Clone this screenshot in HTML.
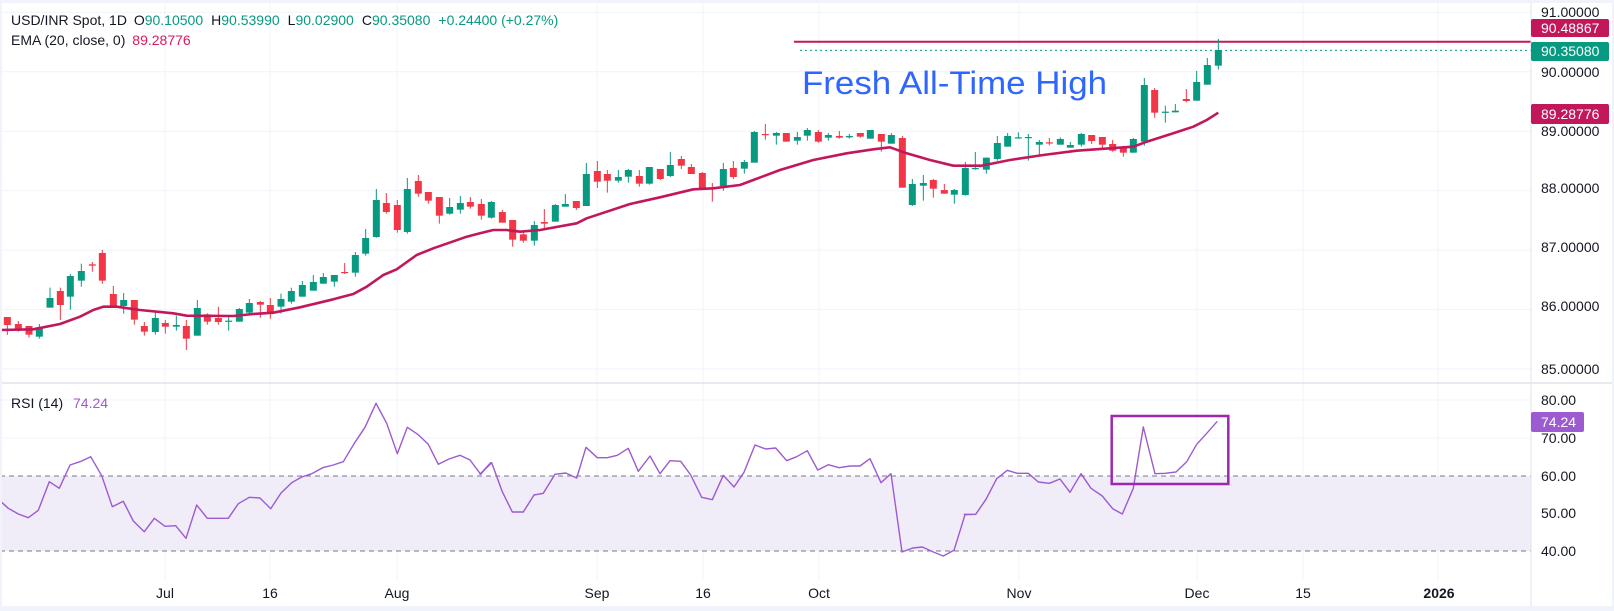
<!DOCTYPE html>
<html><head><meta charset="utf-8"><style>
html,body{margin:0;padding:0;background:#fff;}
body{width:1614px;height:611px;overflow:hidden;font-family:"Liberation Sans","DejaVu Sans",sans-serif;}
svg{display:block}
</style></head><body>
<svg id="c" width="1614" height="611" xmlns="http://www.w3.org/2000/svg" font-family="Liberation Sans, DejaVu Sans, sans-serif">
<rect x="0" y="0" width="1614" height="611" fill="#fff"/>
<g id="grid" stroke="#f0f3fa" stroke-width="1"></g>
<rect x="0" y="476" width="1531" height="75" fill="#f0ecf8"/>
<line x1="0" y1="476" x2="1531" y2="476" stroke="#787b86" stroke-dasharray="5,4"/>
<line x1="0" y1="551" x2="1531" y2="551" stroke="#787b86" stroke-dasharray="5,4"/>
<line x1="800" y1="50.4" x2="1531" y2="50.4" stroke="#089981" stroke-dasharray="2,3" stroke-width="1"/>
<line x1="794" y1="41.7" x2="1531" y2="41.7" stroke="#c2185b" stroke-width="2"/>
<g id="candles"></g>
<path id="ema" fill="none" stroke="#c2185b" stroke-width="2.6" stroke-linejoin="round"/>
<path id="rsi" fill="none" stroke="#9c5bd0" stroke-width="1.4" stroke-linejoin="round"/>
<rect x="1111.7" y="416" width="116.6" height="68" fill="none" stroke="#9c27b0" stroke-width="2.5"/>
<text x="802" y="94" font-size="32" fill="#2f66ff" textLength="305" lengthAdjust="spacingAndGlyphs">Fresh All-Time High</text>
<line x1="1531" y1="0" x2="1531" y2="606" stroke="#e0e3eb"/>
<line x1="0" y1="383" x2="1614" y2="383" stroke="#e0e3eb" stroke-width="1.5"/>
<rect x="0" y="0" width="1614" height="3" fill="#f0f3fa"/>
<rect x="0" y="0" width="2" height="611" fill="#f0f3fa"/>
<rect x="1612" y="0" width="2" height="611" fill="#f0f3fa"/>
<rect x="0" y="606" width="1614" height="5" fill="#f0f3fa"/>
<text x="11" y="25" font-size="14" fill="#131722">USD/INR Spot, 1D <tspan dx="3">O</tspan><tspan fill="#089981">90.10500</tspan><tspan dx="8">H</tspan><tspan fill="#089981">90.53990</tspan><tspan dx="8">L</tspan><tspan fill="#089981">90.02900</tspan><tspan dx="8">C</tspan><tspan fill="#089981">90.35080</tspan><tspan dx="8" fill="#089981">+0.24400 (+0.27%)</tspan></text>
<text x="11" y="45" font-size="14" fill="#131722">EMA (20, close, 0) <tspan dx="3" fill="#d81b60">89.28776</tspan></text>
<text x="11" y="408" font-size="14" fill="#131722">RSI (14) <tspan dx="6" fill="#9c5bd0">74.24</tspan></text>
<g font-size="14" fill="#131722">
<text x="1541" y="17">91.00000</text>
<text x="1541" y="77">90.00000</text>
<text x="1541" y="136">89.00000</text>
<text x="1541" y="193">88.00000</text>
<text x="1541" y="252">87.00000</text>
<text x="1541" y="311">86.00000</text>
<text x="1541" y="374">85.00000</text>
<text x="1541" y="405">80.00</text>
<text x="1541" y="481">60.00</text>
<text x="1541" y="518">50.00</text>
<text x="1541" y="556">40.00</text>
</g>
<text x="1541" y="443" font-size="14" fill="#131722">70.00</text>
<rect x="1531" y="19" width="78" height="18" rx="2" fill="#c2185b"/>
<text x="1541" y="33" font-size="14" fill="#fff">90.48867</text>
<rect x="1531" y="42" width="78" height="19" rx="2" fill="#089981"/>
<text x="1541" y="56" font-size="14" fill="#fff">90.35080</text>
<rect x="1531" y="104" width="78" height="20" rx="2" fill="#c2185b"/>
<text x="1541" y="119" font-size="14" fill="#fff">89.28776</text>
<rect x="1531" y="412" width="53" height="20" rx="2" fill="#9c5bd0"/>
<text x="1541" y="427" font-size="14" fill="#fff">74.24</text>
<g font-size="14" fill="#131722" text-anchor="middle">
<text x="165" y="598">Jul</text>
<text x="270" y="598">16</text>
<text x="397" y="598">Aug</text>
<text x="597" y="598">Sep</text>
<text x="703" y="598">16</text>
<text x="819" y="598">Oct</text>
<text x="1019" y="598">Nov</text>
<text x="1197" y="598">Dec</text>
<text x="1303" y="598">15</text>
<text x="1439" y="598" font-weight="bold">2026</text>
</g>
</svg>
<script>
var NS="http://www.w3.org/2000/svg";
function el(p,t,a){var e=document.createElementNS(NS,t);for(var k in a)e.setAttribute(k,a[k]);p.appendChild(e);return e;}
var grid=document.getElementById("grid");
[165,270,397,597,703,819,1019,1197,1303,1438].forEach(function(x){el(grid,"line",{x1:x,y1:3,x2:x,y2:580});});
[12.3,71.8,131.2,190.7,250.1,309.6,369,400,438,513].forEach(function(y){el(grid,"line",{x1:0,y1:y,x2:1531,y2:y});});
var z1=[[22,'r',441,465,441,495],[55,'r',462,482,453,485],[87,'r',468,494,468,503],[118,'g',472,500,462,506],[150,'g',384,413,353,413],[181,'r',363,405,353,450],[211,'g',318,380,312,419],[244,'g',303,332,281,350],[277,'r',283,287,276,305],[307,'r',249,332,240,341],[340,'r',372,412,348,412],[371,'g',390,408,369,431],[403,'r',390,449,390,464],[433,'r',468,485,456,497],[466,'g',444,486,423,494],[496,'r',459,470,450,491],[529,'g',465,470,437,482],[559,'r',468,506,450,540],[592,'g',414,497,390,497],[622,'r',433,455,430,464],[655,'r',444,456,410,464],[686,'g',452,455,440,482],[718,'g',417,455,414,455],[748,'g',399,428,387,433],[781,'r',396,404,393,443],[811,'r',405,426,384,446],[843,'g',387,410,371,431],[874,'g',363,395,353,401],[907,'g',345,380,333,380],[940,'g',336,362,315,362],[970,'g',321,341,309,341],[1003,'g',315,335,315,350],[1034,'r',306,309,279,312],[1066,'g',255,308,246,320],[1097,'g',204,251,177,257],[1129,'g',90,201,57,203],[1159,'r',99,126,69,131],[1192,'r',105,180,90,188],[1222,'g',57,186,24,191],[1255,'r',33,71,15,80],[1285,'r',66,92,66,101],[1318,'r',81,137,81,161],[1349,'g',111,131,84,134],[1381,'g',99,119,78,131],[1411,'r',96,110,81,116],[1444,'r',102,137,87,149],[1474,'g',96,143,93,146]];
var z2=[[67,'r',336,368,330,368],[98,'r',360,419,360,440],[130,'r',403,422,397,428],[163,'g',375,422,363,437],[193,'r',366,371,327,389],[226,'g',315,365,312,365],[256,'g',312,320,282,320],[289,'r',303,324,303,330],[319,'g',222,318,189,318],[352,'r',213,245,183,264],[382,'r',222,242,210,278],[415,'g',231,242,210,248],[445,'g',210,230,207,248],[478,'r',228,251,210,260],[508,'g',201,251,201,254],[541,'r',207,237,207,240],[571,'g',195,228,156,231],[604,'r',177,197,168,207],[634,'r',201,222,192,222],[667,'r',219,264,216,264],[697,'r',264,266,249,305],[730,'g',207,258,189,272],[760,'r',204,231,183,237],[793,'g',186,206,180,221],[823,'g',96,188,93,188],[856,'r',102,104,72,119],[889,'g',99,107,96,134],[919,'r',99,125,99,125],[952,'g',111,122,96,134],[982,'g',90,107,84,122],[1015,'r',96,125,90,128],[1045,'g',105,113,99,122],[1078,'r',108,113,93,116],[1108,'g',108,112,102,116],[1141,'r',99,110,99,113],[1171,'g',90,116,90,116],[1204,'r',102,125,102,155],[1234,'g',105,131,99,131],[1267,'r',114,263,108,263],[1297,'g',252,315,237,318],[1330,'g',249,257,225,302],[1360,'r',240,266,237,293],[1393,'r',270,281,252,281],[1423,'g',270,284,267,311],[1456,'g',204,285,186,287],[1486,'g',204,207,156,209]];
var z3=[[79,'g',383,419,383,431],[112,'g',339,387,318,392],[143,'g',318,350,309,350],[175,'g',322,324,307,326],[205,'g',321,323,312,392],[238,'g',336,344,330,378],[268,'r',337,339,324,346],[301,'g',327,344,322,344],[331,'g',345,353,336,353],[364,'g',312,344,309,350],[395,'r',315,333,315,342],[427,'r',321,344,321,357],[458,'r',342,362,330,365],[490,'r',351,368,348,380],[520,'g',327,368,324,368],[553,'g',165,335,144,347],[584,'r',180,248,174,263],[616,'g',245,247,227,278],[646,'g',242,247,222,247],[679,'r',207,213,177,217],[710,'g',156,212,123,212],[742,'g',105,164,84,164],[775,'g',60,107,27,119]];
var cg=document.getElementById("candles");
function draw(arr,ox,oy){arr.forEach(function(c){var x=ox+c[0]/3,col=c[1]=='g'?'#089981':'#f23645';
var bt=oy+c[2]/3,bb=oy+c[3]/3,wt=oy+c[4]/3,wb=oy+c[5]/3;
el(cg,"line",{x1:x,y1:wt,x2:x,y2:wb,stroke:col,"stroke-width":1});
el(cg,"rect",{x:x-3.5,y:bt,width:7,height:Math.max(1.2,bb-bt),fill:col});});}
draw(z1,0,170);draw(z2,480,100);draw(z3,960,30);
function pts(arr,ox,oy){return arr.map(function(p){return [ox+p[0]/3,oy+p[1]/3];});}
var e=[].concat(
pts([[0,480],[100,478],[180,462],[240,440],[280,420],[310,410],[350,410],[420,420],[520,430],[560,437],[700,438],[760,432],[820,428],[900,412],[1000,388],[1060,372],[1100,350],[1150,315],[1190,298],[1250,255],[1300,235],[1400,200],[1440,190]],0,170),
pts([[40,390],[80,390],[120,395],[180,390],[290,370],[320,355],[450,312],[540,292],[640,268],[700,265],[780,255],[820,240],[900,210],[1000,180],[1100,160],[1180,148],[1230,142],[1280,160],[1350,180],[1420,197],[1500,197]],480,100),
pts([[60,408],[150,390],[250,375],[350,362],[450,355],[520,350],[560,335],[640,310],[700,290],[740,270],[775,248]],960,30));
document.getElementById("ema").setAttribute("d","M"+e.map(function(p){return p[0].toFixed(1)+","+p[1].toFixed(1);}).join(" L"));
var r=[].concat(
pts([[5,352],[25,370],[55,387],[85,398],[115,376],[148,290],[178,310],[210,240],[240,230],[272,215],[305,272],[337,365],[370,349],[400,408],[433,440],[463,400],[495,424],[527,422],[558,460],[590,360],[622,400],[655,400],[685,400],[715,356],[748,337],[780,339],[812,371],[843,324],[875,293],[905,276],[935,266],[968,248],[1000,240],[1030,230],[1063,175],[1095,127],[1128,55],[1160,115],[1192,206],[1222,127],[1253,148],[1285,178],[1315,238],[1347,222],[1380,211],[1410,225],[1442,268],[1472,233]],0,385),
pts([[0,268],[35,233],[67,320],[97,381],[130,381],[162,330],[190,325],[225,268],[257,264],[290,279],[318,187],[352,218],[382,218],[412,211],[445,190],[475,259],[510,213],[540,266],[570,227],[602,229],[632,270],[665,337],[697,344],[730,271],[762,306],[792,262],[825,180],[857,192],[887,189],[920,227],[950,215],[982,197],[1013,255],[1045,239],[1077,248],[1110,243],[1140,243],[1170,221],[1203,293],[1233,266],[1266,501],[1298,489],[1327,486],[1360,501],[1390,513],[1422,496],[1455,389],[1487,388]],480,385),
pts([[13,388],[47,388],[78,343],[110,281],[142,256],[172,265],[205,265],[235,291],[268,295],[300,282],[330,322],[363,266],[393,310],[427,333],[458,371],[487,387],[520,310],[550,126],[585,266],[615,265],[648,261],[680,230],[710,178],[742,143],[772,109]],960,385));
document.getElementById("rsi").setAttribute("d","M"+r.map(function(p){return p[0].toFixed(1)+","+p[1].toFixed(1);}).join(" L"));
</script>
</body></html>
